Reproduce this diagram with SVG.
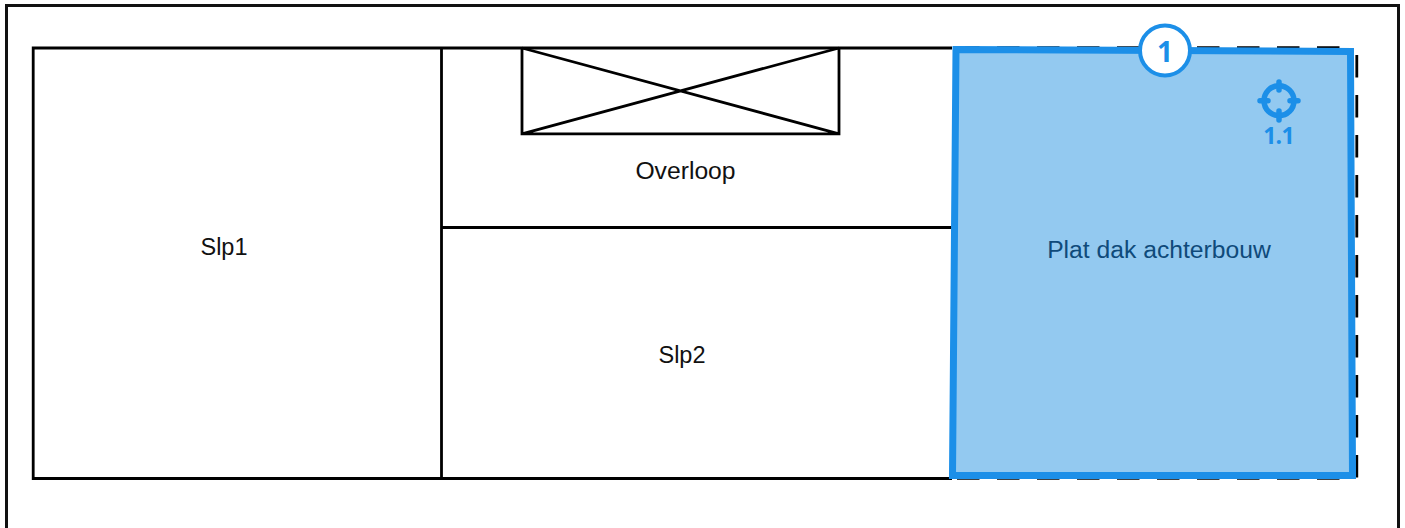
<svg xmlns="http://www.w3.org/2000/svg" width="1405" height="528" viewBox="0 0 1405 528">
<style>
.w{fill:none;stroke:#000;stroke-width:2.8}
.d{fill:none;stroke:#000;stroke-width:2.8;stroke-dasharray:22.5 17.5}
.t{font-family:"Liberation Sans",Arial,sans-serif;font-size:23.5px;text-anchor:middle;fill:#111}
.b{stroke:#1c8fe8;fill:none}
</style>
<rect width="1405" height="528" fill="#fff"/>
<g id="frame"><path d="M6.500 528V5.500H1398.500V528" fill="none" stroke="#111" stroke-width="3"/></g>
<g id="connectors">
<path class="w" d="M952 48H33.200V478.500H952"/>
<path class="w" d="M441.500 48V478.500M441.500 227.500H952"/>
<path class="d" d="M957 47.700H1340"/>
<path class="d" d="M957 478.300H1340"/>
<path class="d" d="M1356.800 55V478"/>
</g>
<g id="stairs"><path class="w" d="M522 48V133.800H839V48M522 48L839 133.800M522 133.800L839 48"/></g>
<g id="slp1"><text class="t" x="224" y="255">Slp1</text></g>
<g id="overloop"><text class="t" x="685.500" y="179" font-size="24.700" style="font-size:24.700px">Overloop</text></g>
<g id="slp2"><text class="t" x="682" y="363">Slp2</text></g>
<g id="plat-dak">
<path d="M956 49.500L1350.500 51.500L1352.500 475.500H952.500Z" fill="#93c9f0" stroke="#1c8fe8" stroke-width="7"/>
<text x="1159" y="258" font-family="'Liberation Sans',Arial,sans-serif" font-size="24.700" text-anchor="middle" fill="#0f4a7a">Plat dak achterbouw</text>
</g>
<g id="badge-1">
<circle cx="1165" cy="50.500" r="25" fill="#fff" stroke="#1c8fe8" stroke-width="4"/>
<text x="1165" y="61.500" font-family="'Open Sans','Liberation Sans',sans-serif" font-weight="700" font-size="28" text-anchor="middle" fill="#1c8fe8">1</text>
</g>
<g id="marker-1-1">
<circle class="b" cx="1279" cy="100.700" r="15" stroke-width="5.500"/>
<path class="b" stroke-width="5.500" stroke-linecap="round" d="M1279 82V90M1279 111V120M1260 100.700H1268M1290 100.700H1298"/>
<text x="1278.500" y="144" font-family="'Open Sans','Liberation Sans',sans-serif" font-weight="700" font-size="23" letter-spacing="-0.800" text-anchor="middle" fill="#1c8fe8">1.1</text>
</g>
</svg>
